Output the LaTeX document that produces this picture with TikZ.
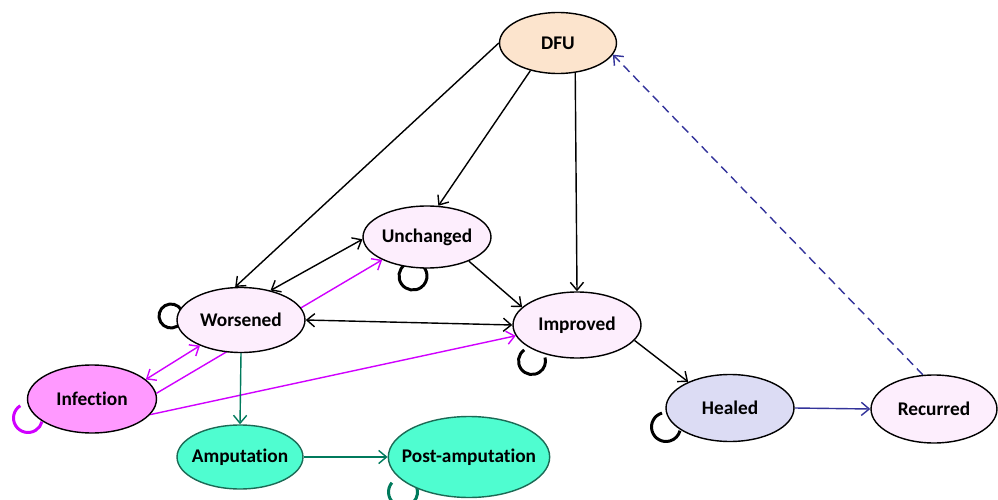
\documentclass[tikz,border=0pt]{standalone}
\usepackage{fontspec}
\setmainfont{Carlito}[Ligatures=NoCommon]
\usetikzlibrary{shapes.geometric,arrows.meta}
\pgfdeclarelayer{background}
\pgfsetlayers{background,main}

\definecolor{peach}{HTML}{FCE4CD}
\definecolor{blush}{HTML}{FDEEFD}
\definecolor{orchid}{HTML}{FF99FF}
\definecolor{lavend}{HTML}{DCDCF4}
\definecolor{aqua}{HTML}{4FFDD0}
\definecolor{aquaedge}{HTML}{1B6A55}
\definecolor{violet}{HTML}{D000FF}
\definecolor{pine}{HTML}{007A5C}
\definecolor{navy}{HTML}{33339A}

\tikzset{
  state/.style={ellipse, draw=black, line width=0.8pt, inner xsep=-0.2cm, inner ysep=0pt,
    font=\fontsize{11}{13}\selectfont\bfseries},
  link/.style={line width=0.8pt, -{Straight Barb[length=4.5pt,width=7.5pt]}},
  twoway/.style={line width=0.8pt, {Straight Barb[length=4.5pt,width=7.5pt]}-{Straight Barb[length=4.5pt,width=7.5pt]}},
  selfloop/.style={line width=1.7pt},
}

\begin{document}
\begin{tikzpicture}[x=0.02cm, y=-0.02cm]
\useasboundingbox (0,0) rectangle (998,500);
\clip (0,0) rectangle (998,500);

% states
\node[state, fill=peach, minimum width=2.34cm, minimum height=1.22cm] (dfu) at (558,43) {DFU};
\node[state, fill=blush, minimum width=2.56cm, minimum height=1.24cm] (unch) at (427,237) {Unchanged};
\node[state, fill=blush, minimum width=2.56cm, minimum height=1.30cm] (wors) at (241,320) {Worsened};
\node[state, fill=blush, minimum width=2.56cm, minimum height=1.32cm] (impr) at (577,325) {Improved};
\node[state, fill=orchid, minimum width=2.58cm, minimum height=1.36cm] (infe) at (92,399) {Infection};
\node[state, fill=lavend, minimum width=2.56cm, minimum height=1.34cm] (heal) at (730,408) {Healed};
\node[state, fill=blush, minimum width=2.52cm, minimum height=1.36cm] (recu) at (934,409) {Recurred};
\node[state, fill=aqua, draw=aquaedge, minimum width=2.52cm, minimum height=1.28cm] (ampu) at (240,457) {Amputation};
\node[state, fill=aqua, draw=aquaedge, minimum width=3.14cm, minimum height=1.62cm] (post) at (469,457) {Post-amputation};

\begin{pgfonlayer}{background}
% transitions from the initial ulcer
\draw[link] (dfu.west) -- (wors.100);
\draw[link] (dfu.225) -- (unch.70);
\draw[link] (dfu.300) -- (impr.north);
% black transitions between wound states
\draw[twoway] (wors.45) -- (unch.182);
\draw[twoway] (wors.east) -- (impr.west);
\draw[link] (unch.330) -- (impr.162);
\draw[link] (impr.345) -- (heal.148);
% healing and recurrence
\draw[link, navy] (heal.east) -- (recu.west);
\draw[link, navy, dash pattern=on 5pt off 3pt] (recu.108) -- (dfu.348);
% infection paths
\draw[twoway, violet] (wors.212) -- (infe.20);
\draw[link, violet] (infe.5) -- (unch.207);
\draw[link, violet] (infe.345) -- (impr.190);
% amputation paths
\draw[link, pine] (wors.south) -- (ampu.north);
\draw[link, pine] (ampu.east) -- (post.west);

% self loops
\draw[selfloop] ([shift={(-70,-4)}]wors.center) ++(30:0.24cm) arc[start angle=30, end angle=330, radius=0.24cm];
\draw[selfloop] ([shift={(-14,39)}]unch.center) ++(125:0.28cm) arc[start angle=125, end angle=415, radius=0.28cm];
\draw[selfloop] ([shift={(-45,36)}]impr.center) ++(125:0.27cm) arc[start angle=125, end angle=375, radius=0.27cm];
\draw[selfloop, violet] ([shift={(-64,19)}]infe.center) ++(122:0.29cm) arc[start angle=122, end angle=345, radius=0.29cm];
\draw[selfloop] ([shift={(-64,19)}]heal.center) ++(106:0.29cm) arc[start angle=106, end angle=345, radius=0.29cm];
\draw[selfloop, pine] ([shift={(-66,35)}]post.center) ++(140:0.29cm) arc[start angle=140, end angle=380, radius=0.29cm];
\end{pgfonlayer}
\end{tikzpicture}
\end{document}
